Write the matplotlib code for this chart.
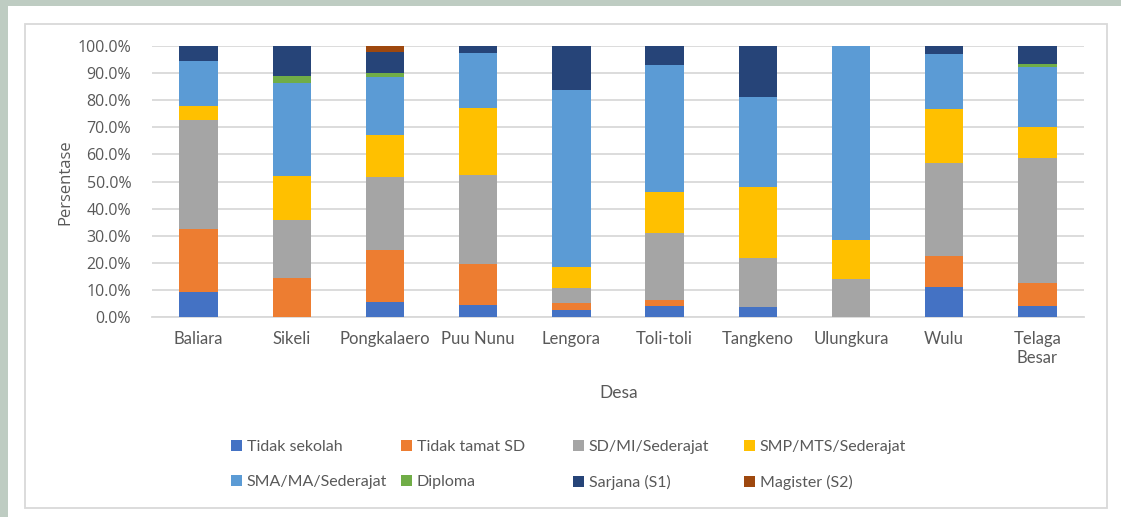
import matplotlib
matplotlib.use('Agg')
import matplotlib.pyplot as plt
from matplotlib.patches import Rectangle
from matplotlib.ticker import PercentFormatter
import numpy as np

desa = ['Baliara', 'Sikeli', 'Pongkalaero', 'Puu Nunu', 'Lengora',
        'Toli-toli', 'Tangkeno', 'Ulungkura', 'Wulu', 'Telaga\nBesar']

# percentage of residents per education level
tidak_sekolah = [9.2, 0.0, 5.5, 4.6, 2.5, 4.2, 3.6, 0.0, 11.0, 3.9]
tidak_tamat_sd = [23.1, 14.3, 19.3, 15.1, 2.8, 2.2, 0.0, 0.0, 11.5, 8.5]
sd_mi = [40.4, 21.5, 26.8, 32.6, 5.4, 24.5, 18.2, 13.9, 34.3, 46.2]
smp_mts = [5.1, 16.3, 15.5, 24.9, 7.9, 15.4, 26.0, 14.4, 20.0, 11.4]
sma_ma = [16.7, 34.1, 21.3, 20.1, 65.0, 46.8, 33.4, 71.7, 20.2, 22.4]
diploma = [0.0, 2.8, 1.7, 0.0, 0.0, 0.0, 0.0, 0.0, 0.0, 1.1]
sarjana = [5.5, 11.0, 7.7, 2.7, 16.4, 6.9, 18.8, 0.0, 3.0, 6.5]
magister = [0.0, 0.0, 2.2, 0.0, 0.0, 0.0, 0.0, 0.0, 0.0, 0.0]

series = [
    ('Tidak sekolah', tidak_sekolah, '#4472C4'),
    ('Tidak tamat SD', tidak_tamat_sd, '#ED7D31'),
    ('SD/MI/Sederajat', sd_mi, '#A5A5A5'),
    ('SMP/MTS/Sederajat', smp_mts, '#FFC000'),
    ('SMA/MA/Sederajat', sma_ma, '#5B9BD5'),
    ('Diploma', diploma, '#70AD47'),
    ('Sarjana (S1)', sarjana, '#264478'),
    ('Magister (S2)', magister, '#9E480E'),
]

W, H = 1121, 517
fig = plt.figure(figsize=(W / 100, H / 100), dpi=100)
fig.patch.set_facecolor('white')

# green frame strip at top/left and the chart border
fig.add_artist(Rectangle((0, 1 - 6 / H), 1, 6 / H, transform=fig.transFigure,
                         facecolor='#BECCC2', edgecolor='none', zorder=0))
fig.add_artist(Rectangle((0, 0), 8 / W, 1, transform=fig.transFigure,
                         facecolor='#BECCC2', edgecolor='none', zorder=0))
fig.add_artist(Rectangle((25 / W, 1 - 508 / H), (1107 - 25) / W, (508 - 24) / H,
                         transform=fig.transFigure, facecolor='none',
                         edgecolor='#D9D9D9', linewidth=1.3, zorder=1))

ax = fig.add_axes([152 / W, 1 - 317 / H, (1084 - 152) / W, (317 - 46) / H])
x = np.arange(len(desa))
totals = np.sum([s[1] for s in series], axis=0)
bottom = np.zeros(len(desa))
handles = []
for name, vals, col in series:
    frac = np.array(vals) / totals
    b = ax.bar(x, frac, 0.41, bottom=bottom, color=col, label=name, zorder=3)
    handles.append(b)
    bottom += frac

ax.set_xlim(-0.5, len(desa) - 0.5)
ax.set_ylim(0, 1)
ax.set_yticks(np.arange(0, 1.01, 0.1))
ax.yaxis.set_major_formatter(PercentFormatter(1.0, decimals=1))
ax.grid(axis='y', color='#D9D9D9', linewidth=1.3, zorder=0)
for s in ['top', 'right', 'left']:
    ax.spines[s].set_visible(False)
ax.spines['bottom'].set_color('#D9D9D9')
ax.spines['bottom'].set_linewidth(1.3)
ax.tick_params(axis='both', length=0, colors='#595959')
ax.tick_params(axis='y', pad=15, labelsize=11.5)
ax.tick_params(axis='x', pad=10)
for t in ax.get_yticklabels():
    t.set_fontfamily('Open Sans')
ax.set_xticks(x)
ax.set_xticklabels(desa, fontsize=12, family='Lato', linespacing=1.25)

fig.text(65 / W, 1 - 182 / H, 'Persentase', rotation=90, ha='center', va='center',
         fontsize=12, color='#595959', family='Open Sans')
fig.text(619 / W, 1 - 393 / H, 'Desa', ha='center', va='center',
         fontsize=12.5, color='#595959', family='Lato')

# legend: four columns of two entries each
col_x = [231, 401, 573, 744]
for i, cx in enumerate(col_x):
    hs = [handles[i], handles[i + 4]]
    lg = fig.legend(hs, [h.get_label() for h in hs], loc='upper left',
                    bbox_to_anchor=(cx / W, 1 - 440 / H), frameon=False,
                    handlelength=0.7, handleheight=0.65,
                    handletextpad=0.3, labelspacing=1.32, borderpad=0,
                    borderaxespad=0, prop={'family': 'Lato', 'size': 11.5})
    for t in lg.get_texts():
        t.set_color('#595959')

fig.savefig('out.png', dpi=100, facecolor='white')
